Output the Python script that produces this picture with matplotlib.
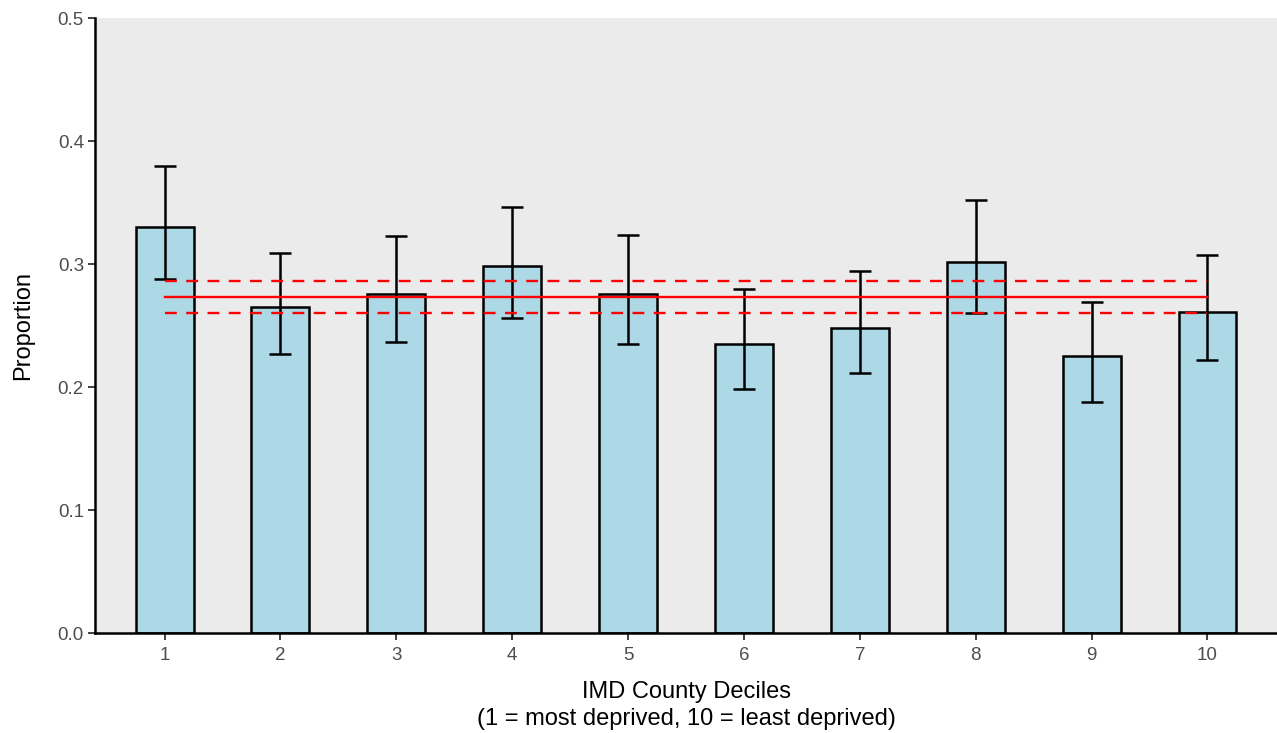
import matplotlib
matplotlib.use("Agg")
import matplotlib.pyplot as plt
import numpy as np

plt.rcParams['font.family'] = ['Liberation Sans', 'DejaVu Sans']

deciles = ['1', '2', '3', '4', '5', '6', '7', '8', '9', '10']
proportion = [0.330, 0.265, 0.276, 0.298, 0.276, 0.235, 0.248, 0.302, 0.225, 0.261]
ci_low = [0.288, 0.227, 0.237, 0.256, 0.235, 0.198, 0.211, 0.260, 0.188, 0.222]
ci_high = [0.380, 0.309, 0.323, 0.346, 0.324, 0.280, 0.294, 0.352, 0.269, 0.307]

overall = 0.273
overall_low = 0.260
overall_high = 0.286


def main():
    fig = plt.figure(figsize=(12.77, 7.33), dpi=100)
    ax = fig.add_axes([0.0744, 0.1364, 0.9256, 0.839])
    ax.set_facecolor('#EBEBEB')

    x = np.arange(1, len(deciles) + 1)
    p = np.array(proportion)
    yerr = [p - np.array(ci_low), np.array(ci_high) - p]

    ax.bar(x, p, width=0.5, color='#ADD8E6', edgecolor='black', linewidth=1.8, zorder=2)
    ax.errorbar(x, p, yerr=yerr, fmt='none', ecolor='black', elinewidth=1.8,
                capsize=8, capthick=1.8, zorder=3)

    # overall proportion with confidence band
    ax.plot([x[0], x[-1]], [overall, overall], color='red', lw=1.7, zorder=4)
    for v in (overall_low, overall_high):
        ax.plot([x[0], x[-1]], [v, v], color='red', lw=1.7, ls=(0, (5, 4)), zorder=4)

    ax.set_xlim(0.4, 10.6)
    ax.set_ylim(0, 0.5)
    ax.set_xticks(x)
    ax.set_xticklabels(deciles)
    ax.set_yticks([0.0, 0.1, 0.2, 0.3, 0.4, 0.5])
    ax.set_yticklabels(['0.0', '0.1', '0.2', '0.3', '0.4', '0.5'])

    for s in ('top', 'right'):
        ax.spines[s].set_visible(False)
    for s in ('left', 'bottom'):
        ax.spines[s].set_linewidth(1.8)
        ax.spines[s].set_color('black')

    ax.tick_params(axis='both', length=5, width=1.3, color='#333333',
                   labelcolor='#4D4D4D', labelsize=13.5, pad=3)
    ax.tick_params(axis='x', pad=5)

    ax.set_ylabel('Proportion', fontsize=17, labelpad=17)
    ax.set_xlabel('IMD County Deciles\n(1 = most deprived, 10 = least deprived)',
                  fontsize=17, labelpad=12, linespacing=1.3)

    fig.savefig('out.png', dpi=100)
    plt.close(fig)


if __name__ == '__main__':
    main()
